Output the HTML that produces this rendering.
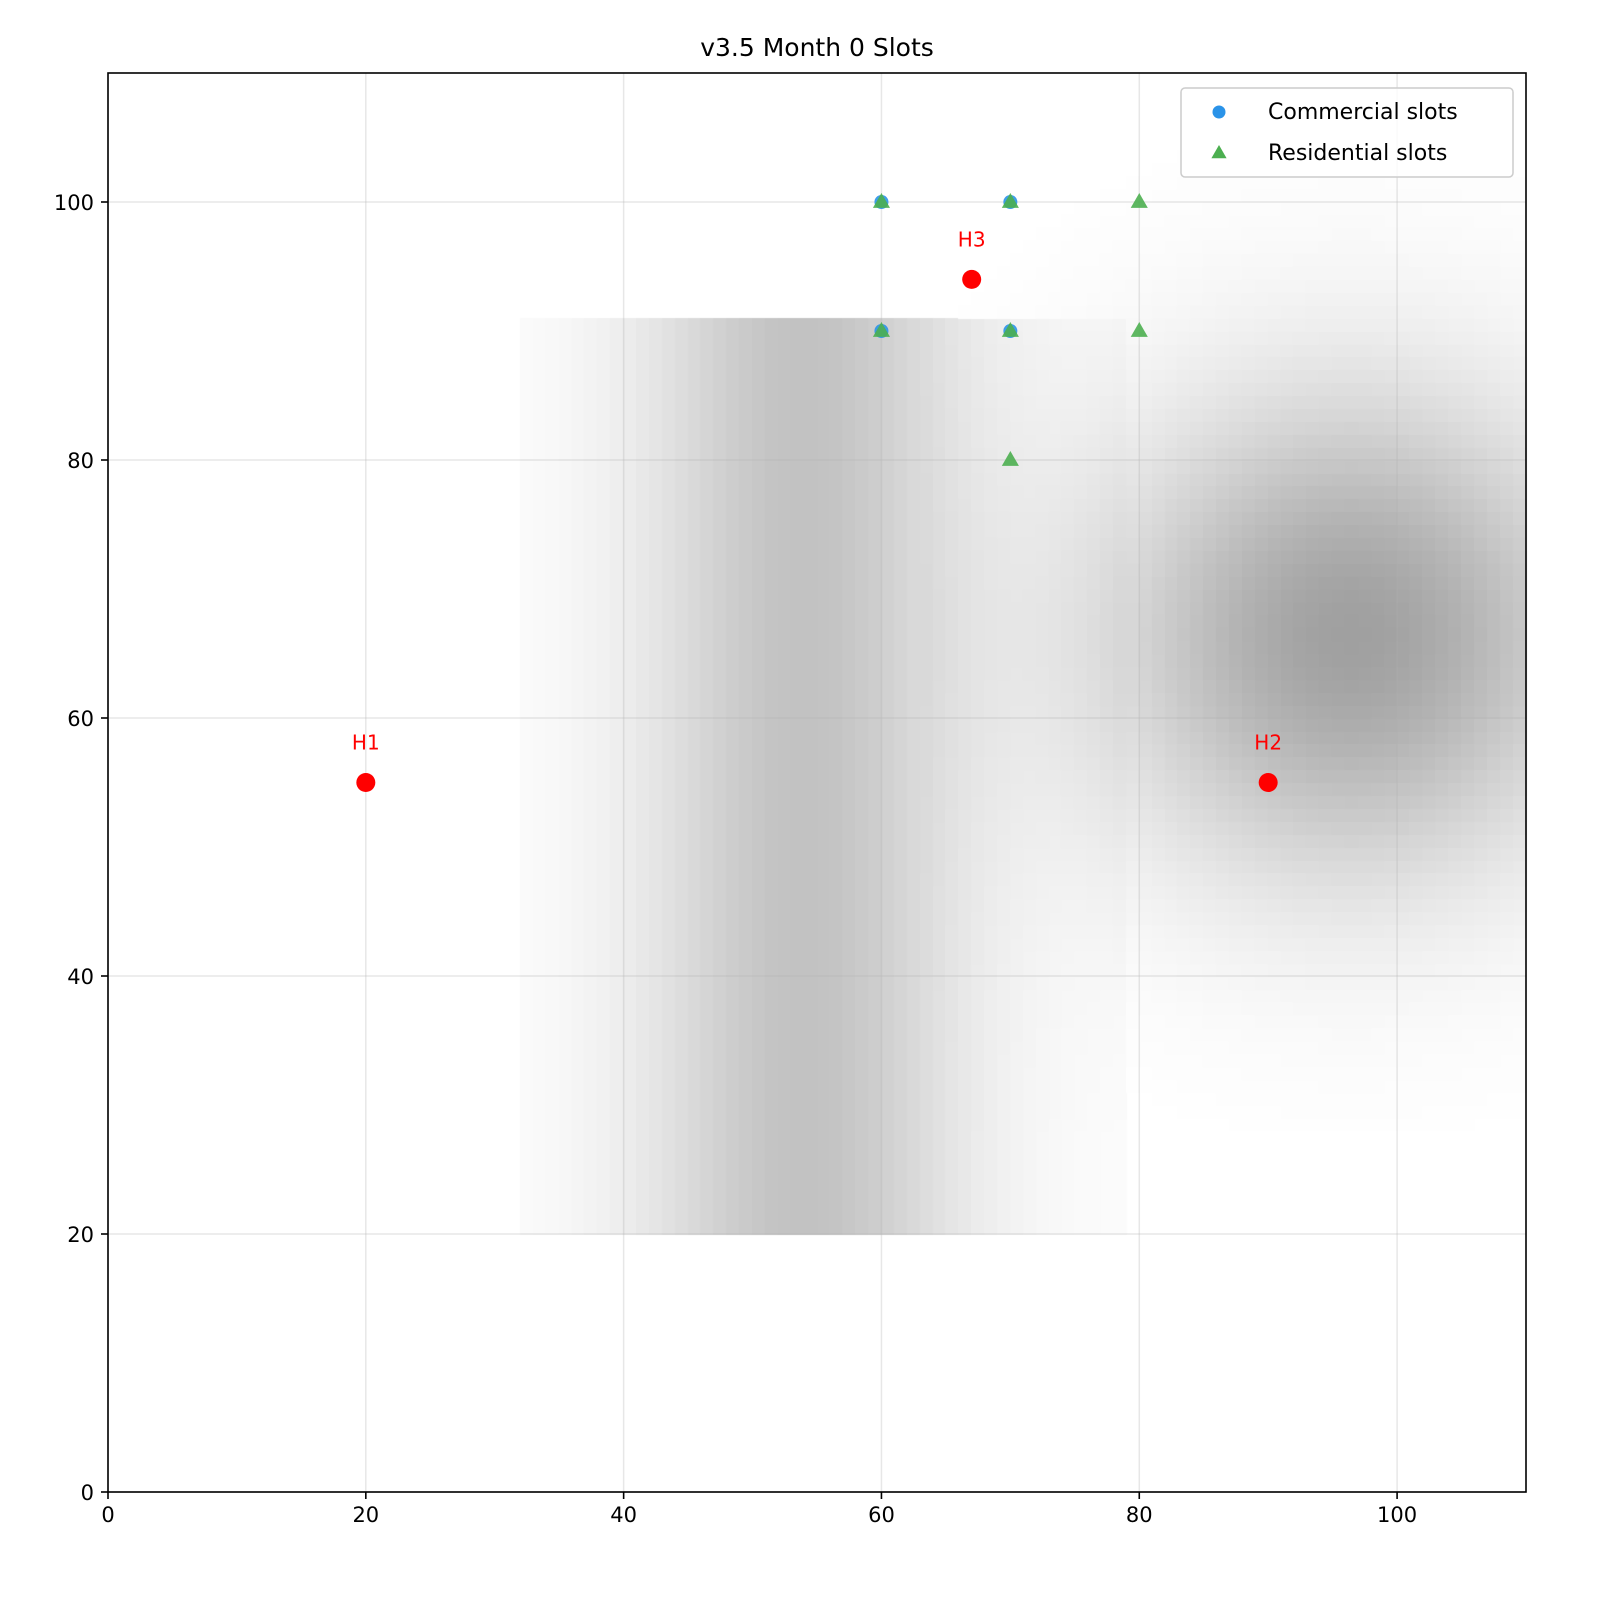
<!DOCTYPE html>
<html><head><meta charset="utf-8"><style>
body{margin:0;background:#fff;font-family:"DejaVu Sans","Liberation Sans",sans-serif;}
#wrap{position:relative;width:1600px;height:1600px;}
canvas{position:absolute;left:0;top:0;}
svg{position:absolute;left:0;top:0;}
</style></head><body>
<div id="wrap">
<canvas id="heat" width="1600" height="1600"></canvas>
<svg id="chart" width="1600" height="1600"></svg>
</div>
<script>
const xTicks=[0,20,40,60,80,100];
const yTicks=[0,20,40,60,80,100];
const commercialX=[60,70,60,70];
const commercialY=[100,100,90,90];
const residentialX=[60,70,80,60,70,80,70];
const residentialY=[100,100,100,90,90,90,80];
const hubNames=["H1","H2","H3"];
const hubX=[20,90,67];
const hubY=[55,55,94];
// heatmap field parameters: band (x0,x1,y0,y1,center,sigma,peak), blob (cx,cy,sigma,peak,minY)
const bandParams=[32,79,20,91,54,8.5,58];
const blobParams=[96.5,66.5,13,95,28];

const L=108,R=1526,T=73,B=1492,XMAX=110,YMAX=110;
const sx=v=>L+(R-L)*v/XMAX, sy=v=>B-(B-T)*v/YMAX;
const NS="http://www.w3.org/2000/svg";
const svg=document.getElementById('chart');
function mk(tag,attrs,parent){const e=document.createElementNS(NS,tag);for(const k in attrs)e.setAttribute(k,attrs[k]);(parent||svg).appendChild(e);return e;}

const ctx=document.getElementById('heat').getContext('2d');
for(let i=0;i<XMAX;i++){for(let j=0;j<YMAX;j++){
  const x=i+0.5,y=j+0.5;let d=0;
  const [bx0,bx1,by0,by1,bc,bs,bp]=bandParams;
  if(x>=bx0&&x<bx1&&y>=by0&&y<by1)d+=bp*Math.exp(-((x-bc)**2)/(2*bs*bs))+3;
  const [cx,cy,cs,cp,my]=blobParams;
  if(y>=my && x>=63)d+=cp*Math.exp(-((x-cx)**2+(y-cy)**2)/(2*cs*cs));
  if(d<1)continue;
  const c=Math.max(0,Math.round(255-d));
  ctx.fillStyle=`rgb(${c},${c},${c})`;
  const x0=sx(i),x1=sx(i+1),y0=sy(j+1),y1=sy(j);
  ctx.fillRect(Math.floor(x0),Math.floor(y0),Math.ceil(x1-x0)+1,Math.ceil(y1-y0)+1);
}}

xTicks.forEach(t=>{const g=mk('line',{x1:sx(t),x2:sx(t),y1:T,y2:B,stroke:'#b0b0b0','stroke-opacity':0.3,'stroke-width':1.5});
});
yTicks.forEach(t=>{const g=mk('line',{x1:L,x2:R,y1:sy(t),y2:sy(t),stroke:'#b0b0b0','stroke-opacity':0.3,'stroke-width':1.5});
});

const fr=mk('rect',{x:L,y:T,width:R-L,height:B-T,fill:'none',stroke:'#000','stroke-width':1.6});


xTicks.forEach(t=>{mk('line',{x1:sx(t),x2:sx(t),y1:B,y2:B+7,stroke:'#000','stroke-width':1.6});
const tx=mk('text',{x:sx(t),y:B+30,'text-anchor':'middle','font-size':21});tx.textContent=t;
});
yTicks.forEach(t=>{mk('line',{x1:L-7,x2:L,y1:sy(t),y2:sy(t),stroke:'#000','stroke-width':1.6});
const tx=mk('text',{x:L-14,y:sy(t)+8,'text-anchor':'end','font-size':21});tx.textContent=t;
});

const title=mk('text',{x:(L+R)/2,y:56,'text-anchor':'middle','font-size':25});title.textContent='v3.5 Month 0 Slots';


function tri(cx,cy,r){return `${cx},${cy-r} ${cx+r*0.95},${cy+r*0.65} ${cx-r*0.95},${cy+r*0.65}`;}
commercialX.forEach((x,i)=>{const c=mk('circle',{cx:sx(x),cy:sy(commercialY[i]),r:7,fill:'#2a93e8','fill-opacity':0.9});
});
residentialX.forEach((x,i)=>{const p=mk('polygon',{points:tri(sx(x),sy(residentialY[i]),9),fill:'#4caf50','fill-opacity':0.9});
});
hubX.forEach((x,i)=>{const c=mk('circle',{cx:sx(x),cy:sy(hubY[i]),r:9.5,fill:'#ff0000'});

const t=mk('text',{x:sx(x),y:sy(hubY[i])-33,'text-anchor':'middle','font-size':20,fill:'#ff0000'});t.textContent=hubNames[i];
});

const lg=mk('g',{});
mk('rect',{x:1181,y:88,width:332,height:89,rx:4,fill:'#fff','fill-opacity':0.8,stroke:'#ccc','stroke-width':1.5},lg);
const l1=mk('circle',{cx:1219,cy:112,r:6.5,fill:'#2a93e8'},lg);
const t1=mk('text',{x:1268,y:119,'font-size':22},lg);t1.textContent='Commercial slots';
const l2=mk('polygon',{points:tri(1219,153,8),fill:'#4caf50'},lg);
const t2=mk('text',{x:1268,y:160,'font-size':22},lg);t2.textContent='Residential slots';
</script>
</body></html>
